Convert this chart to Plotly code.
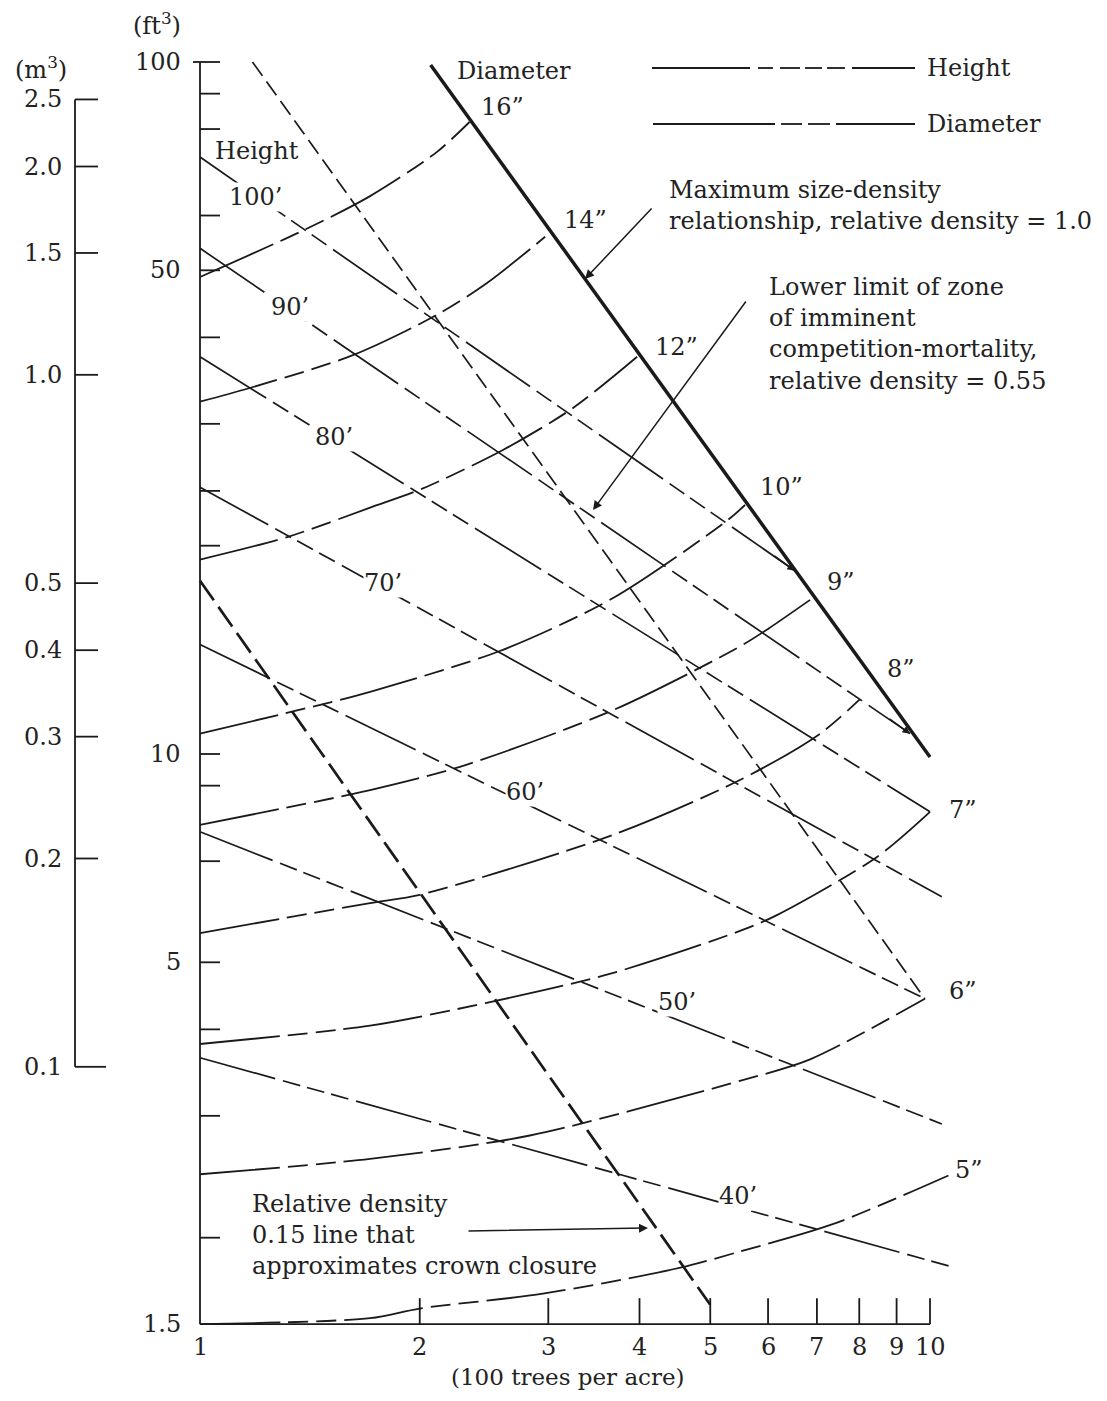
import math
import plotly.graph_objects as go

# ---------------- data ----------------
# x: stand density (hundreds of trees per acre); y: mean tree volume (ft3)
diam_labels = ["16”", "14”", "12”", "10”", "9”", "8”", "7”", "6”", "5”"]
d16_x = [1.00, 1.39, 1.71, 2.11, 2.34]
d16_y = [48.9, 57.2, 64.0, 74.1, 81.9]
d14_x = [1.00, 1.17, 1.62, 2.11, 2.47, 2.97]
d14_y = [32.3, 33.8, 37.7, 43.1, 47.9, 55.9]
d12_x = [1.00, 1.32, 1.71, 2.02, 2.60, 3.24, 3.97]
d12_y = [19.1, 20.6, 22.7, 24.2, 27.5, 31.6, 37.5]
d10_x = [1.00, 1.52, 1.71, 2.58, 3.68, 5.29, 5.58]
d10_y = [10.7, 11.9, 12.3, 14.1, 16.8, 21.8, 22.9]
d9_x = [1.00, 1.71, 2.31, 3.70, 5.49, 6.02, 6.85]
d9_y = [7.90, 8.87, 9.64, 11.6, 14.3, 15.2, 16.7]
d8_x = [1.00, 1.71, 2.00, 3.68, 5.49, 7.07, 8.02]
d8_y = [5.51, 6.09, 6.26, 7.64, 9.17, 10.7, 12.0]
d7_x = [1.00, 1.71, 2.47, 3.64, 5.49, 6.17, 8.46, 10.0]
d7_y = [3.81, 4.05, 4.37, 4.81, 5.55, 5.85, 7.10, 8.25]
d6_x = [1.00, 1.71, 2.83, 5.49, 6.85, 9.84]
d6_y = [2.47, 2.60, 2.81, 3.37, 3.62, 4.43]
d5_x = [1.00, 1.71, 2.00, 2.95, 4.55, 5.49, 7.34, 10.6]
d5_y = [1.50, 1.53, 1.58, 1.66, 1.81, 1.91, 2.09, 2.46]

height_labels = ["100’", "90’", "80’", "70’", "60’", "50’", "40’"]
height_start_x = [1.0, 1.0, 1.0, 1.0, 1.0, 1.0, 1.0]
height_start_y = [72.9, 53.8, 37.5, 24.3, 14.4, 7.72, 3.64]
height_end_x = [6.53, 9.39, 10.0, 10.38, 9.84, 10.38, 10.62]
height_end_y = [18.4, 10.7, 8.25, 6.22, 4.43, 2.92, 1.82]

rd_max_x = [2.07, 10.0]      # relative density 1.0
rd_max_y = [99.0, 9.90]
rd_055_x = [1.18, 9.84]      # relative density 0.55
rd_055_y = [100.0, 4.43]
rd_015_x = [1.00, 5.00]      # relative density 0.15
rd_015_y = [17.8, 1.60]

ft3_ticks = [100, 90, 80, 60, 50, 40, 30, 24, 20, 10, 9, 7, 5, 4, 3, 2]
ft3_label_vals = [100, 50, 10, 5, 1.5]
ft3_label_text = ["100", "50", "10", "5", "1.5"]
m3_ticks = [2.5, 2.0, 1.5, 1.0, 0.5, 0.4, 0.3, 0.2, 0.1]
m3_label_text = ["2.5", "2.0", "1.5", "1.0", "0.5", "0.4", "0.3", "0.2", "0.1"]
FT3_PER_M3 = 35.3147
x_ticks = [2, 3, 4, 5, 6, 7, 8, 9, 10]
x_label_vals = [1, 2, 3, 4, 5, 6, 7, 8, 9, 10]
x_label_text = ["1", "2", "3", "4", "5", "6", "7", "8", "9", "10"]

# ---------------- layout geometry ----------------
W, H, OFF = 1091, 1385, 8          # figure size, page body margin
X1_PX, XDEC = 200, 730             # page px of x=1, px per decade
Y100_PX, YDEC = 62, 692            # page px of y=100, px per decade
FONT = "DejaVu Serif"
TXT = "#222222"
LINE = "#1a1a1a"


def lx(px):
    return (px - X1_PX) / XDEC


def ly(py):
    return 2 - (py - Y100_PX) / YDEC


def px_x(px):
    return 10 ** lx(px)


def px_y(py):
    return 10 ** ly(py)


fig = go.Figure()


def add_line(x, y, width=1.8, dash="solid", shape="linear", color=LINE):
    fig.add_trace(go.Scatter(x=x, y=y, mode="lines", hoverinfo="skip",
                             line=dict(color=color, width=width, dash=dash,
                                       shape=shape, smoothing=0.8)))


HEIGHT_DASH = "78px,8px,18px,7px,18px,7px,18px,8px"
DIAM_DASH = "80px,8px,20px,8px,20px,8px"

# diameter curves
for xs, ys in [(d16_x, d16_y), (d14_x, d14_y), (d12_x, d12_y), (d10_x, d10_y),
               (d9_x, d9_y), (d8_x, d8_y), (d7_x, d7_y), (d6_x, d6_y),
               (d5_x, d5_y)]:
    add_line(xs, ys, width=1.8, dash=DIAM_DASH, shape="spline")

# height lines
for i in range(len(height_labels)):
    add_line([height_start_x[i], height_end_x[i]],
             [height_start_y[i], height_end_y[i]], width=1.7, dash=HEIGHT_DASH)

# relative density lines
add_line(rd_055_x, rd_055_y, width=1.7, dash="17px,7px")
add_line(rd_015_x, rd_015_y, width=2.7, dash="24px,8px")
add_line(rd_max_x, rd_max_y, width=3.5)

# ---------------- axes drawn by hand ----------------
ax_x, ax_y = [], []
# ft3 axis
ax_x += [1, 1, None]
ax_y += [1.5, 100, None]
tl = 10 ** (20 / XDEC)
for v in ft3_ticks:
    x0 = px_x(193) if v == ft3_ticks[0] else 1
    ax_x += [x0, tl, None]
    ax_y += [v, v, None]
# m3 axis
xm = px_x(75)
xm_t = px_x(98)
ax_x += [xm, xm, None]
ax_y += [m3_ticks[-1] * FT3_PER_M3, m3_ticks[0] * FT3_PER_M3, None]
for v in m3_ticks:
    ax_x += [xm, xm_t if v != m3_ticks[-1] else px_x(106), None]
    ax_y += [v * FT3_PER_M3, v * FT3_PER_M3, None]
# x axis
ax_x += [1, 10, None]
ax_y += [1.5, 1.5, None]
th = 1.5 * 10 ** (26 / YDEC)
for v in x_ticks:
    ax_x += [v, v, None]
    ax_y += [1.5, th, None]
fig.add_trace(go.Scatter(x=ax_x, y=ax_y, mode="lines", hoverinfo="skip",
                         line=dict(color=LINE, width=1.8)))

# ---------------- annotations ----------------
ann = []


def pxy(px, py):
    return (px - OFF) / W, 1 - (py - OFF) / H


def txt(s, px, py, xa="center", ya="middle", size=24, bg=None, align="center"):
    x, y = pxy(px, py)
    d = dict(text=s, x=x, y=y, xref="paper", yref="paper", xanchor=xa,
             yanchor=ya, showarrow=False, align=align,
             font=dict(family=FONT, size=size, color=TXT))
    if bg:
        d["bgcolor"] = bg
        d["borderpad"] = 0
    ann.append(d)


def arrow(tip_lx, tip_ly, ax, ay, size=1.2):
    ann.append(dict(x=tip_lx, y=tip_ly, xref="x", yref="y", ax=ax, ay=ay,
                    axref="pixel", ayref="pixel", showarrow=True, text="",
                    arrowhead=2, arrowsize=size, arrowwidth=1.5,
                    arrowcolor=LINE, standoff=0))


# tick labels
for v, s in zip(ft3_label_vals, ft3_label_text):
    py = Y100_PX + (2 - math.log10(v)) * YDEC
    txt(s, 183, py, xa="right")
for v, s in zip(m3_ticks, m3_label_text):
    py = Y100_PX + (2 - math.log10(v * FT3_PER_M3)) * YDEC
    txt(s, 64, py, xa="right")
for v, s in zip(x_label_vals, x_label_text):
    x, y = pxy(0, 1347)
    ann.append(dict(text=s, x=math.log10(v), y=y, xref="x", yref="paper",
                    xanchor="center", yanchor="middle", showarrow=False,
                    font=dict(family=FONT, size=24, color=TXT)))

txt("(ft<sup>3</sup>)", 157, 24)
txt("(m<sup>3</sup>)", 41, 68)
txt("(100 trees per acre)", 568, 1392, ya="bottom", size=23)

# height labels
txt("Height", 257, 151, bg="white")
height_label_pos = [(255, 197), (290, 307), (334, 437), (383, 583),
                    (525, 792), (677, 1002), (738, 1196)]
for s, (px, py) in zip(height_labels, height_label_pos):
    txt(s, px, py, bg="white")

# diameter labels
txt("Diameter", 514, 71)
diam_label_pos = [(502, 107), (585, 220), (676, 347), (781, 487), (841, 582),
                  (901, 669), (963, 810), (963, 991), (969, 1170)]
for s, (px, py) in zip(diam_labels, diam_label_pos):
    txt(s, px, py)

# explanatory notes
txt("Maximum size-density<br>relationship, relative density = 1.0",
    667, 205, xa="left", align="left")
txt("Lower limit of zone<br>of imminent<br>competition-mortality,<br>relative density = 0.55",
    767, 334, xa="left", align="left")
txt("Relative density<br>0.15 line that<br>approximates crown closure",
    250, 1235, xa="left", align="left")

arrow(lx(585), ly(279), 68, -72)
arrow(lx(593), ly(510), 154, -210)
arrow(lx(648), ly(1228), -181, 3)
for i in (0, 1):
    arrow(math.log10(height_end_x[i]), math.log10(height_end_y[i]), -22, -16,
          size=1.0)

# legend
shapes = []
legend_rows = [
    ("Height", 68, [(652, 750), (758, 773), (780, 800), (805, 822),
                    (827, 845), (852, 915)]),
    ("Diameter", 124, [(653, 775), (781, 802), (808, 830), (836, 915)]),
]
for name, py, segs in legend_rows:
    for a, b in segs:
        x0, y0 = pxy(a, py)
        x1, _ = pxy(b, py)
        shapes.append(dict(type="line", xref="paper", yref="paper", x0=x0,
                           x1=x1, y0=y0, y1=y0,
                           line=dict(color=LINE, width=1.8)))
    txt(name, 925, py, xa="left")

fig.update_layout(
    width=W, height=H, autosize=False,
    margin=dict(l=0, r=0, t=0, b=0, pad=0),
    paper_bgcolor="white", plot_bgcolor="white",
    showlegend=False, hovermode=False,
    xaxis=dict(type="log", range=[lx(OFF), lx(OFF + W)], visible=False,
               fixedrange=True),
    yaxis=dict(type="log", range=[ly(OFF + H), ly(OFF)], visible=False,
               fixedrange=True),
    annotations=ann, shapes=shapes,
)

fig.write_html("out.html")
